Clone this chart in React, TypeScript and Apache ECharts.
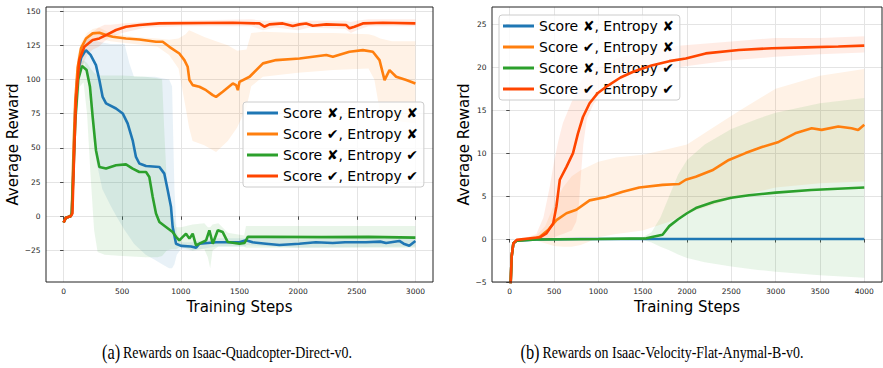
import React, { useEffect, useRef } from "react";
import * as echarts from "echarts";

// ---------- legend names ----------
const NAMES = [
  "Score ✘, Entropy ✘",
  "Score ✔, Entropy ✘",
  "Score ✘, Entropy ✔",
  "Score ✔, Entropy ✔",
];
const COLORS = ["#1f77b4", "#ff7f0e", "#2ca02c", "#ff4500"];

// ---------- tick labels ----------
const xTicksL = [0, 500, 1000, 1500, 2000, 2500, 3000];
const yTicksL = [-25, 0, 25, 50, 75, 100, 125, 150];
const xTicksR = [0, 500, 1000, 1500, 2000, 2500, 3000, 3500, 4000];
const yTicksR = [-5, 0, 5, 10, 15, 20, 25];

// ---------- (a) Isaac-Quadcopter-Direct-v0 : mean lines [step, reward] ----------
const blueL = [
  [0, -4.5], [20, -1], [60, 0], [70, 2], [85, 40], [100, 80], [120, 105], [150, 116], [190, 121.5],
  [230, 118], [276, 110.5], [305, 99.6], [333, 87.3], [362, 82.5], [447, 78.8], [504, 75.2],
  [546, 67.9], [589, 55.6], [617, 43.4], [646, 38.6], [703, 36.8], [817, 36.1], [859, 31.2],
  [888, 19], [916, 6.8], [930, -7.8], [959, -20], [1002, -21.6], [1087, -22], [1130, -23],
  [1158, -20], [1300, -19], [1500, -19], [1555, -17.5], [1612, -19], [1726, -20], [1840, -21],
  [2010, -20], [2150, -19], [2295, -19.5], [2400, -19], [2579, -19], [2700, -18.5], [2750, -19.5],
  [2863, -18], [2900, -20], [2948, -21.5], [3000, -18],
];
const orangeL = [
  [0, -4.5], [20, -1], [60, 0], [70, 3], [85, 50], [100, 84.9], [120, 109], [148, 122.7],
  [191, 130], [248, 133.7], [305, 134.2], [362, 132.5], [418, 131.3], [532, 130], [646, 129.3],
  [788, 127.6], [845, 127.6], [902, 123.9], [987, 119], [1030, 114.2], [1058, 109.3], [1073, 99.6],
  [1101, 95.9], [1158, 94.7], [1215, 92.2], [1272, 88.6], [1300, 87.3], [1357, 91], [1443, 97.1],
  [1471, 95.9], [1486, 92.2], [1500, 98.3], [1586, 102], [1700, 111.8], [1813, 114.2],
  [2012, 115.4], [2240, 117.9], [2296, 116.6], [2438, 120.3], [2552, 121.5], [2637, 120.3],
  [2694, 114.2], [2737, 99.6], [2779, 106.9], [2836, 102], [2922, 99.6], [3000, 97.1],
];
const greenL = [
  [0, -4.5], [20, -1], [60, 0], [70, 2], [85, 35], [100, 70], [125, 100], [157, 110], [196, 106.9],
  [225, 94.7], [248, 72.7], [276, 48.3], [305, 36.1], [362, 34.9], [447, 37.3], [532, 38],
  [589, 34.9], [646, 32.4], [703, 32.4], [731, 28.8], [760, 14.1], [788, 2], [817, -4.2],
  [873, -7.8], [930, -11.5], [959, -15], [987, -17.6], [1016, -15], [1044, -12.7], [1073, -16.3],
  [1101, -12.7], [1129, -21.2], [1158, -20], [1215, -17.6], [1243, -10.2], [1272, -20],
  [1315, -10.2], [1357, -11.5], [1400, -18.8], [1500, -20], [1543, -19.5], [1571, -15],
  [1726, -15], [2200, -15.2], [2600, -15], [3000, -15.6],
];
const redL = [
  [0, -4.5], [20, -1], [60, 0], [75, 2], [91, 48.3], [106, 84.9], [134, 114.2], [177, 123.9],
  [248, 128.8], [305, 130], [362, 132.5], [447, 136.2], [532, 138.6], [646, 139.8], [817, 141],
  [1443, 141.5], [1670, 141], [1712, 138.6], [1755, 140.3], [1869, 141], [1954, 139.1],
  [2012, 140.3], [2068, 141], [2125, 139.3], [2240, 140.3], [2410, 139.8], [2438, 137.4],
  [2480, 138.6], [2552, 141], [2722, 141.5], [3000, 141],
];

// ---------- (a) shaded bands [step, lower, upper] ----------
const blueBandL = [
  [0, -5, -4], [20, -1.5, -0.5], [60, -1, 1], [70, 1, 4], [85, 30, 50], [100, 70, 90],
  [120, 98, 110], [150, 110, 122], [180, 112, 128], [210, 100, 130], [250, 60, 129],
  [280, 40, 128], [330, 20, 127], [400, 8, 126], [450, 0, 126], [520, -10, 126], [560, -15, 112],
  [600, -20, 102], [700, -28, 102], [780, -32, 102], [840, -35, 101], [900, -38, 100],
  [925, -38, 95], [945, -35, 20], [965, -28, -12], [1000, -24, -19], [1100, -25, -19],
  [1300, -22, -16], [1550, -22, -16], [1560, -21, -14], [2000, -23, -17], [3000, -22, -15],
];
const orangeBandL = [
  [0, -5, -4], [20, -1.5, -0.5], [60, -1, 1], [70, 1, 4], [85, 40, 70], [100, 75, 95],
  [120, 100, 118], [150, 115, 127], [200, 126, 134], [250, 130, 137], [300, 130, 138],
  [400, 128, 134], [600, 126, 131], [800, 124, 130], [900, 118, 129], [980, 108, 130],
  [1040, 80, 133], [1070, 65, 136], [1100, 55, 135], [1200, 52, 131], [1300, 47, 128],
  [1400, 55, 125], [1480, 65, 121], [1560, 80, 122], [1600, 95, 134], [1700, 102, 135],
  [2000, 105, 134], [2300, 107, 134], [2600, 108, 133], [2650, 100, 132], [2700, 75, 130],
  [2800, 70, 128], [3000, 68, 128],
];
const greenBandL = [
  [0, -5, -4], [20, -1.5, -0.5], [60, -1, 1], [70, 1, 4], [90, 30, 60], [110, 70, 100],
  [140, 95, 112], [170, 98, 114], [200, 75, 112], [230, 30, 108], [260, -10, 105],
  [290, -26, 103], [350, -28, 103], [500, -29, 103], [700, -30, 102], [800, -30, 101],
  [840, -29, 100], [860, -27, 60], [880, -25, 25], [920, -24, 5], [960, -24, -8], [1000, -22, -8],
  [1100, -25, -6], [1200, -24, -5], [1230, -30, -8], [1250, -38, -8], [1270, -25, -6],
  [1320, -22, -5], [1400, -22, -12], [1540, -22, -14], [1555, -23, -7], [3000, -23, -7],
];
const redBandL = [
  [0, -5, -4], [20, -1.5, -0.5], [60, -1, 1], [75, 1, 4], [90, 30, 60], [110, 70, 95],
  [130, 100, 115], [160, 110, 125], [200, 118, 132], [250, 122, 135], [300, 124, 138],
  [350, 128, 140], [400, 131, 140], [500, 134, 141], [700, 138, 142], [1000, 139, 143],
  [1600, 139, 144], [1700, 136, 143], [1800, 138, 143], [2000, 136, 142], [2100, 138, 143],
  [2400, 137, 143], [2450, 134, 142], [2500, 136, 143], [2600, 139, 144], [3000, 139, 144],
];

// ---------- (b) Isaac-Velocity-Flat-Anymal-B-v0 : mean lines ----------
const blueR = [
  [0, -8], [22, -2], [41, -0.5], [79, -0.2], [300, -0.05], [800, 0], [4000, 0],
];
const orangeR = [
  [0, -8], [22, -2], [41, -0.5], [79, -0.2], [300, 0.1], [340, 0.27], [433, 1.05], [527, 2.2],
  [640, 3.0], [752, 3.4], [901, 4.5], [1089, 4.9], [1275, 5.5], [1462, 6.0], [1724, 6.3],
  [1911, 6.4], [1986, 6.9], [2099, 7.25], [2285, 8.0], [2472, 9.2], [2660, 10], [2846, 10.7],
  [3034, 11.3], [3221, 12.3], [3407, 12.9], [3519, 12.7], [3707, 13.1], [3856, 12.9],
  [3931, 12.7], [4000, 13.3],
];
const greenR = [
  [0, -8], [22, -2], [41, -0.5], [79, -0.2], [300, -0.05], [1000, 0], [1540, 0.08], [1724, 0.5],
  [1800, 1.5], [1900, 2.3], [2000, 3.0], [2100, 3.6], [2300, 4.3], [2500, 4.8], [2700, 5.1],
  [3000, 5.4], [3400, 5.7], [3700, 5.85], [4000, 6.0],
];
const redR = [
  [0, -8], [22, -2], [41, -0.5], [79, -0.1], [340, 0.2], [415, 0.66], [490, 1.8], [527, 3.8],
  [565, 6.9], [640, 8.4], [714, 10], [770, 12.3], [826, 14.2], [901, 15.8], [995, 17],
  [1100, 17.8], [1250, 18.8], [1400, 19.5], [1600, 20.2], [1800, 20.7], [1986, 21],
  [2211, 21.6], [2585, 22], [2958, 22.2], [3333, 22.3], [3707, 22.4], [4000, 22.5],
];

// ---------- (b) shaded bands ----------
const blueBandR = [
  [0, -8, -8], [22, -2.2, -1.8], [41, -0.6, -0.4], [79, -0.3, -0.1], [300, -0.1, 0.05],
  [800, -0.05, 0.05], [4000, -0.05, 0.05],
];
const orangeBandR = [
  [0, -8, -8], [22, -2.2, -1.8], [41, -0.7, -0.3], [79, -0.3, -0.1], [300, -0.2, 0.4],
  [400, -0.5, 1.5], [500, -0.8, 4], [600, -0.9, 6], [700, -0.9, 7.3], [800, -0.7, 8],
  [900, -0.3, 8.5], [1000, 0.2, 9], [1200, 0.6, 9.5], [1500, 1, 9.8], [1800, 2, 10.5],
  [2000, 3, 11], [2300, 4, 13], [2600, 5, 15], [3000, 6, 17.5], [3500, 6.5, 19], [4000, 6.7, 19.8],
];
const greenBandR = [
  [0, -8, -8], [22, -2.2, -1.8], [41, -0.7, -0.3], [79, -0.3, -0.1], [300, -0.15, 0.05],
  [1500, -0.1, 0.2], [1600, -0.4, 0.8], [1700, -0.9, 2.5], [1800, -1.3, 5], [1900, -1.8, 7.5],
  [2000, -2.2, 9.2], [2200, -2.7, 11], [2500, -3.2, 12.8], [2800, -3.6, 14], [3000, -3.8, 14.7],
  [3500, -4.2, 15.8], [4000, -4.5, 16.4],
];
const redBandR = [
  [0, -8, -8], [22, -2.2, -1.8], [41, -0.7, -0.3], [79, -0.3, -0.1], [200, -0.2, 0.2],
  [300, 0, 0.6], [380, -0.2, 2.5], [450, 0, 6], [500, 0.2, 9], [550, 0.4, 11.5], [600, 0.6, 13.5],
  [700, 1, 16], [750, 2, 17], [780, 4, 17.8], [800, 7, 18.3], [830, 11, 18.8], [870, 14, 19.2],
  [950, 15.8, 19.8], [1000, 16.3, 20], [1200, 17.8, 21], [1500, 19, 21.8], [1900, 20, 22.5],
  [2500, 20.8, 23], [3000, 21.2, 23.4], [3500, 21.5, 23.4], [4000, 21.7, 23.6],
];

const FONT = "DejaVu Sans";

function hexA(hex: string, a: number) {
  const n = parseInt(hex.slice(1), 16);
  return `rgba(${(n >> 16) & 255},${(n >> 8) & 255},${n & 255},${a})`;
}

function bandSeries(id: string, band: number[][], color: string, idx: number) {
  return {
    type: "custom",
    name: id,
    coordinateSystem: "cartesian2d",
    xAxisIndex: idx,
    yAxisIndex: idx,
    silent: true,
    clip: true,
    z: 1,
    data: band,
    encode: { x: 0, y: [1, 2] },
    renderItem: (params: any, api: any) => {
      if (params.dataIndex !== 0) return null;
      const upper = band.map((b) => api.coord([b[0], b[2]]));
      const lower = band.map((b) => api.coord([b[0], b[1]])).reverse();
      return {
        type: "polygon",
        shape: { points: upper.concat(lower) },
        style: { fill: hexA(color, 0.1), stroke: "none" },
      };
    },
  };
}

function lineSeries(name: string, data: number[][], color: string, idx: number, z: number) {
  return {
    type: "line",
    name,
    data,
    xAxisIndex: idx,
    yAxisIndex: idx,
    symbol: "none",
    silent: true,
    color,
    itemStyle: { color },
    lineStyle: { color, width: 2.6 },
    z,
  };
}

const minus = (v: number) => String(v).replace("-", "\u2212");

function xAxis(idx: number, min: number, max: number, ticks: number[]) {
  return {
    type: "value",
    gridIndex: idx,
    min,
    max,
    name: "Training Steps",
    nameLocation: "middle",
    nameGap: 14,
    nameTextStyle: { fontFamily: FONT, fontSize: 15, color: "#000" },
    axisLine: { show: false },
    axisTick: { show: true, length: 3.5, customValues: ticks, lineStyle: { color: "#222", width: 0.8 } },
    axisLabel: { customValues: ticks, fontFamily: FONT, fontSize: 7.5, color: "#222", margin: 5, formatter: minus },
    splitLine: { show: true, lineStyle: { color: "#e4e4e4", width: 1 } },
  };
}
function yAxis(idx: number, min: number, max: number, ticks: number[], gap: number) {
  return {
    type: "value",
    gridIndex: idx,
    min,
    max,
    name: "Average Reward",
    nameLocation: "middle",
    nameRotate: 90,
    nameGap: gap,
    nameTextStyle: { fontFamily: FONT, fontSize: 15, color: "#000" },
    axisLine: { show: false },
    axisTick: { show: true, length: 3.5, customValues: ticks, lineStyle: { color: "#222", width: 0.8 } },
    axisLabel: { customValues: ticks, fontFamily: FONT, fontSize: 7.5, color: "#222", margin: 5.5, formatter: minus },
    splitLine: { show: true, lineStyle: { color: "#e4e4e4", width: 1 } },
  };
}

function legend(left: number, top: number) {
  return {
    data: NAMES,
    orient: "vertical",
    left,
    top,
    icon: "rect",
    itemWidth: 31,
    itemHeight: 3,
    itemGap: 7,
    itemTextGap: 10,
    selectedMode: false,
    textStyle: { fontFamily: FONT, fontSize: 14, color: "#000" },
    backgroundColor: "rgba(255,255,255,0.8)",
    borderColor: "#cccccc",
    borderWidth: 1,
    borderRadius: 3,
    padding: [4, 6, 4, 4],
  };
}

function caption(x: number, tag: string, text: string) {
  return {
    type: "text",
    x,
    y: 352,
    scaleX: 0.82,
    style: {
      text: `{a|${tag}} {b|${text}}`,
      align: "center",
      verticalAlign: "middle",
      fill: "#000",
      rich: {
        a: { fontFamily: "Liberation Serif", fontSize: 20, fill: "#000" },
        b: { fontFamily: "Liberation Serif", fontSize: 17, fill: "#000" },
      },
    },
  };
}

export default function App() {
  const ref = useRef<HTMLDivElement>(null);
  useEffect(() => {
    if (!ref.current) return;
    const chart = echarts.init(ref.current, null, { renderer: "svg" });
    const linesL = [blueL, orangeL, greenL, redL];
    const bandsL = [blueBandL, orangeBandL, greenBandL, redBandL];
    const linesR = [blueR, orangeR, greenR, redR];
    const bandsR = [blueBandR, orangeBandR, greenBandR, redBandR];
    const series: any[] = [];
    [0, 1, 2, 3].forEach((i) => {
      series.push(bandSeries("bandL" + i, bandsL[i], COLORS[i], 0));
      series.push(bandSeries("bandR" + i, bandsR[i], COLORS[i], 1));
    });
    [0, 1, 2, 3].forEach((i) => {
      series.push(lineSeries(NAMES[i], linesL[i], COLORS[i], 0, 3 + i));
      series.push(lineSeries(NAMES[i], linesR[i], COLORS[i], 1, 3 + i));
    });
    chart.setOption({
      animation: false,
      backgroundColor: "#fff",
      grid: [
        { left: 46, top: 7, width: 387, height: 275, show: true, borderColor: "#222", borderWidth: 1, backgroundColor: "transparent", z: 10 },
        { left: 492, top: 7, width: 390, height: 275, show: true, borderColor: "#222", borderWidth: 1, backgroundColor: "transparent", z: 10 },
      ],
      xAxis: [xAxis(0, -150, 3150, xTicksL), xAxis(1, -200, 4200, xTicksR)],
      yAxis: [yAxis(0, -48, 153, yTicksL, 23), yAxis(1, -5, 27, yTicksR, 19)],
      legend: [legend(243, 102), legend(499, 15)],
      series,
      graphic: [
        caption(227, "(a)", "Rewards on Isaac-Quadcopter-Direct-v0."),
        caption(662, "(b)", "Rewards on Isaac-Velocity-Flat-Anymal-B-v0."),
      ],
    });
    return () => chart.dispose();
  }, []);
  return (
    <div
      ref={ref}
      style={{ position: "fixed", left: 0, top: 0, width: 883, height: 368 }}
    />
  );
}
